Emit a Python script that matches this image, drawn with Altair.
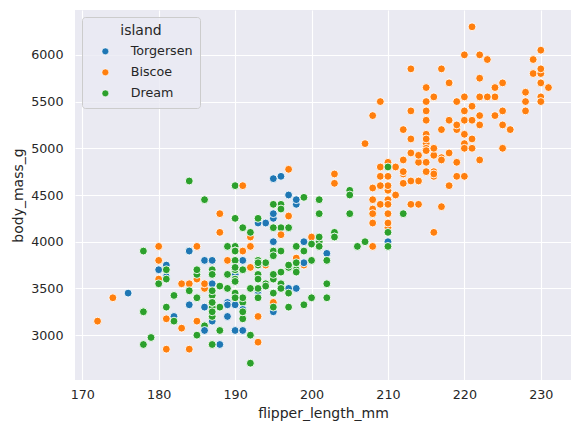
import altair as alt
import pandas as pd

# ---- data (Palmer penguins: flipper length vs body mass), in row order ----
adelie_island = (["Torgersen"] * 19 + ["Biscoe"] * 10 + ["Dream"] * 20 + ["Biscoe"] * 18
                 + ["Torgersen"] * 16 + ["Dream"] * 16 + ["Biscoe"] * 16 + ["Torgersen"] * 16
                 + ["Dream"] * 20)
adelie_flipper = [
    181, 186, 195, 193, 190, 181, 195, 193, 190, 186, 180, 182, 191, 198, 185, 195, 197, 184, 194,
    174, 180, 189, 185, 180, 187, 183, 187, 172, 180,
    178, 178, 188, 184, 195, 196, 190, 180, 181, 184, 182, 195, 186, 196, 185, 190, 182, 179, 190, 191,
    186, 188, 190, 200, 187, 191, 186, 193, 181, 194, 185, 195, 185, 192, 184, 192, 195, 188,
    190, 198, 190, 190, 196, 197, 190, 195, 191, 184, 187, 195, 189, 196, 187, 193,
    191, 194, 190, 189, 189, 190, 202, 205, 185, 186, 187, 208, 190, 196, 178, 192,
    192, 203, 183, 190, 193, 184, 199, 190, 181, 197, 198, 191, 193, 197, 191, 196,
    188, 199, 189, 189, 187, 198, 176, 202, 186, 199, 191, 195, 191, 210, 190, 197,
    193, 199, 187, 190, 191, 200, 185, 193, 193, 187, 188, 190, 192, 185, 190, 184, 195, 193, 187, 201,
]
adelie_mass = [
    3750, 3800, 3250, 3450, 3650, 3625, 4675, 3475, 4250, 3300, 3700, 3200, 3800, 4400, 3700, 3450, 4500, 3325, 4200,
    3400, 3600, 3800, 3950, 3800, 3800, 3550, 3200, 3150, 3950,
    3250, 3900, 3300, 3900, 3325, 4150, 3950, 3550, 3300, 4650, 3150, 3900, 3100, 4400, 3000, 4600, 3425, 2975, 3450, 4150,
    3500, 4300, 3450, 4050, 2900, 3700, 3550, 3800, 2850, 3750, 3150, 4400, 3600, 4050, 2850, 3950, 3350, 4100,
    3050, 4450, 3600, 3900, 3550, 4150, 3700, 4250, 3700, 3900, 3550, 4000, 3200, 4700, 3800, 4200,
    3350, 3550, 3800, 3500, 3950, 3600, 3550, 4300, 3400, 4450, 3300, 4300, 3700, 4350, 2900, 4100,
    3725, 4725, 3075, 4250, 2925, 3550, 3750, 3900, 3175, 4775, 3825, 4600, 3200, 4275, 3900, 4075,
    2900, 3775, 3350, 3325, 3150, 3500, 3450, 3875, 3050, 4000, 3275, 4300, 3050, 4000, 3325, 3500,
    3500, 4475, 3425, 3900, 3175, 3975, 3400, 4250, 3400, 3475, 3050, 3725, 3000, 3650, 4250, 3475, 3450, 3750, 3700, 4000,
]

gentoo_flipper = [
    211, 230, 210, 218, 215, 210, 211, 219, 209, 215, 214, 216, 214, 213, 210, 217, 210, 221, 209, 222,
    218, 215, 213, 215, 215, 215, 216, 215, 210, 220, 222, 209, 207, 230, 220, 220, 213, 219, 208, 208,
    208, 225, 210, 216, 222, 217, 210, 225, 213, 215, 210, 220, 210, 225, 217, 220, 208, 220, 208, 224,
    208, 221, 214, 231, 219, 230, 214, 229, 220, 223, 216, 221, 221, 217, 216, 230, 209, 220, 215, 223,
    212, 221, 212, 224, 212, 228, 218, 218, 212, 230, 218, 228, 212, 224, 214, 226, 216, 222, 203, 225,
    219, 228, 215, 228, 216, 215, 210, 219, 208, 209, 216, 229, 213, 230, 217, 230, 217, 222, 214, 215,
    222, 212, 213,
]
gentoo_mass = [
    4500, 5700, 4450, 5700, 5400, 4550, 4800, 5200, 4400, 5150, 4650, 5550, 4650, 5850, 4200, 5850, 4150, 6300, 4800, 5350,
    5700, 5000, 4400, 5050, 5000, 5100, 4100, 5650, 4600, 5550, 5250, 4700, 5050, 6050, 5150, 5400, 4950, 5250, 4350, 5350,
    3950, 5700, 4300, 4750, 5550, 4900, 4200, 5400, 5100, 5300, 4850, 5300, 4400, 5000, 4900, 5050, 4300, 5000, 4450, 5550,
    4200, 5300, 4400, 5650, 4700, 5700, 4650, 5800, 4700, 5550, 4750, 5000, 5100, 5200, 4700, 5800, 4600, 6000, 4750, 5950,
    4625, 5450, 4725, 5350, 4750, 5600, 4600, 5300, 4875, 5550, 4950, 5400, 4750, 5650, 4850, 5200, 4925, 4875, 4625, 5250,
    4850, 5600, 4975, 5500, 4725, 5500, 4700, 5500, 4575, 5500, 5000, 5950, 4650, 5500, 4375, 5850, 4875, 6000, 4925, 4850,
    5750, 5200, 5400,
]
gentoo_island = ["Biscoe"] * len(gentoo_flipper)

chinstrap_flipper = [
    192, 196, 193, 188, 197, 198, 178, 197, 195, 198, 193, 194, 185, 201, 190, 201, 197, 181, 190, 195,
    181, 191, 187, 193, 195, 197, 200, 200, 191, 205, 187, 201, 187, 203, 195, 199, 195, 210, 192, 205,
    210, 187, 196, 196, 196, 201, 190, 212, 187, 198, 199, 201, 193, 203, 187, 197, 191, 203, 202, 194,
    206, 189, 195, 207, 202, 193, 210, 198,
]
chinstrap_mass = [
    3500, 3900, 3650, 3525, 3725, 3950, 3250, 3750, 4150, 3700, 3800, 3775, 3700, 4050, 3575, 4050, 3300, 3700, 3450, 4400,
    3600, 3400, 2900, 3800, 3300, 4150, 3400, 3800, 3700, 4550, 3200, 4300, 3350, 4100, 3600, 3900, 3850, 4800, 2700, 4500,
    3950, 3650, 3550, 3500, 3675, 4450, 3400, 4300, 3250, 3675, 3325, 3950, 3600, 4050, 3350, 3450, 3250, 4050, 3800, 3525,
    3950, 3650, 3650, 4000, 3400, 3775, 4100, 3775,
]
chinstrap_island = ["Dream"] * len(chinstrap_flipper)

island_order = ["Torgersen", "Biscoe", "Dream"]
island_colors = ["#1f77b4", "#ff7f0e", "#2ca02c"]
x_ticks = [170, 180, 190, 200, 210, 220, 230]
y_ticks = [3000, 3500, 4000, 4500, 5000, 5500, 6000]

assert len(adelie_island) == len(adelie_flipper) == len(adelie_mass), (len(adelie_island), len(adelie_flipper), len(adelie_mass))
assert len(gentoo_flipper) == len(gentoo_mass), (len(gentoo_flipper), len(gentoo_mass))
assert len(chinstrap_flipper) == len(chinstrap_mass), (len(chinstrap_flipper), len(chinstrap_mass))

df = pd.DataFrame({
    "island": adelie_island + gentoo_island + chinstrap_island,
    "flipper_length_mm": adelie_flipper + gentoo_flipper + chinstrap_flipper,
    "body_mass_g": adelie_mass + gentoo_mass + chinstrap_mass,
})
df["row"] = range(len(df))

FONT = "DejaVu Sans"
TXT = "#262626"

chart = alt.Chart(df).mark_circle(
    size=62, opacity=1, stroke="white", strokeWidth=0.9
).encode(
    x=alt.X("flipper_length_mm:Q",
            scale=alt.Scale(domain=[169.05, 233.95], nice=False, zero=False),
            axis=alt.Axis(values=x_ticks, format="d", title="flipper_length_mm",
                          labelPadding=8, titlePadding=6)),
    y=alt.Y("body_mass_g:Q",
            scale=alt.Scale(domain=[2520, 6480], nice=False, zero=False),
            axis=alt.Axis(values=y_ticks, format="d", title="body_mass_g",
                          labelPadding=12, titlePadding=5)),
    color=alt.Color("island:N",
                    scale=alt.Scale(domain=island_order, range=island_colors),
                    legend=alt.Legend(
                        orient="none", legendX=7, legendY=7,
                        title="island", titleAnchor="middle", titleAlign="center",
                        titleFontWeight="normal",
                        titleFontSize=14, titleFont=FONT, titleColor=TXT, titlePadding=7,
                        labelFontSize=12.7, labelFont=FONT, labelColor=TXT, labelOffset=19,
                        symbolType="circle", symbolSize=48, symbolOpacity=1,
                        symbolStrokeColor="white", symbolStrokeWidth=0.6,
                        symbolOffset=10, rowPadding=7,
                        padding=7, fillColor="rgba(234,234,242,0.8)", strokeColor="#cccccc",
                        cornerRadius=3,
                    )),
    order=alt.Order("row:Q"),
).properties(
    width=496, height=370,
    autosize="none",
    padding={"left": 75, "top": 10, "right": 9, "bottom": 53},
    background="white",
).configure_view(
    fill="#EAEAF2", strokeWidth=0
).configure_axis(
    domain=False, ticks=False, grid=True, gridColor="white", gridWidth=1.1,
    labelFont=FONT, labelFontSize=12.7, labelColor=TXT,
    titleFont=FONT, titleFontSize=14, titleColor=TXT, titleFontWeight="normal",
)

chart.save("out.html", embed_options={"renderer": "svg", "actions": False})
